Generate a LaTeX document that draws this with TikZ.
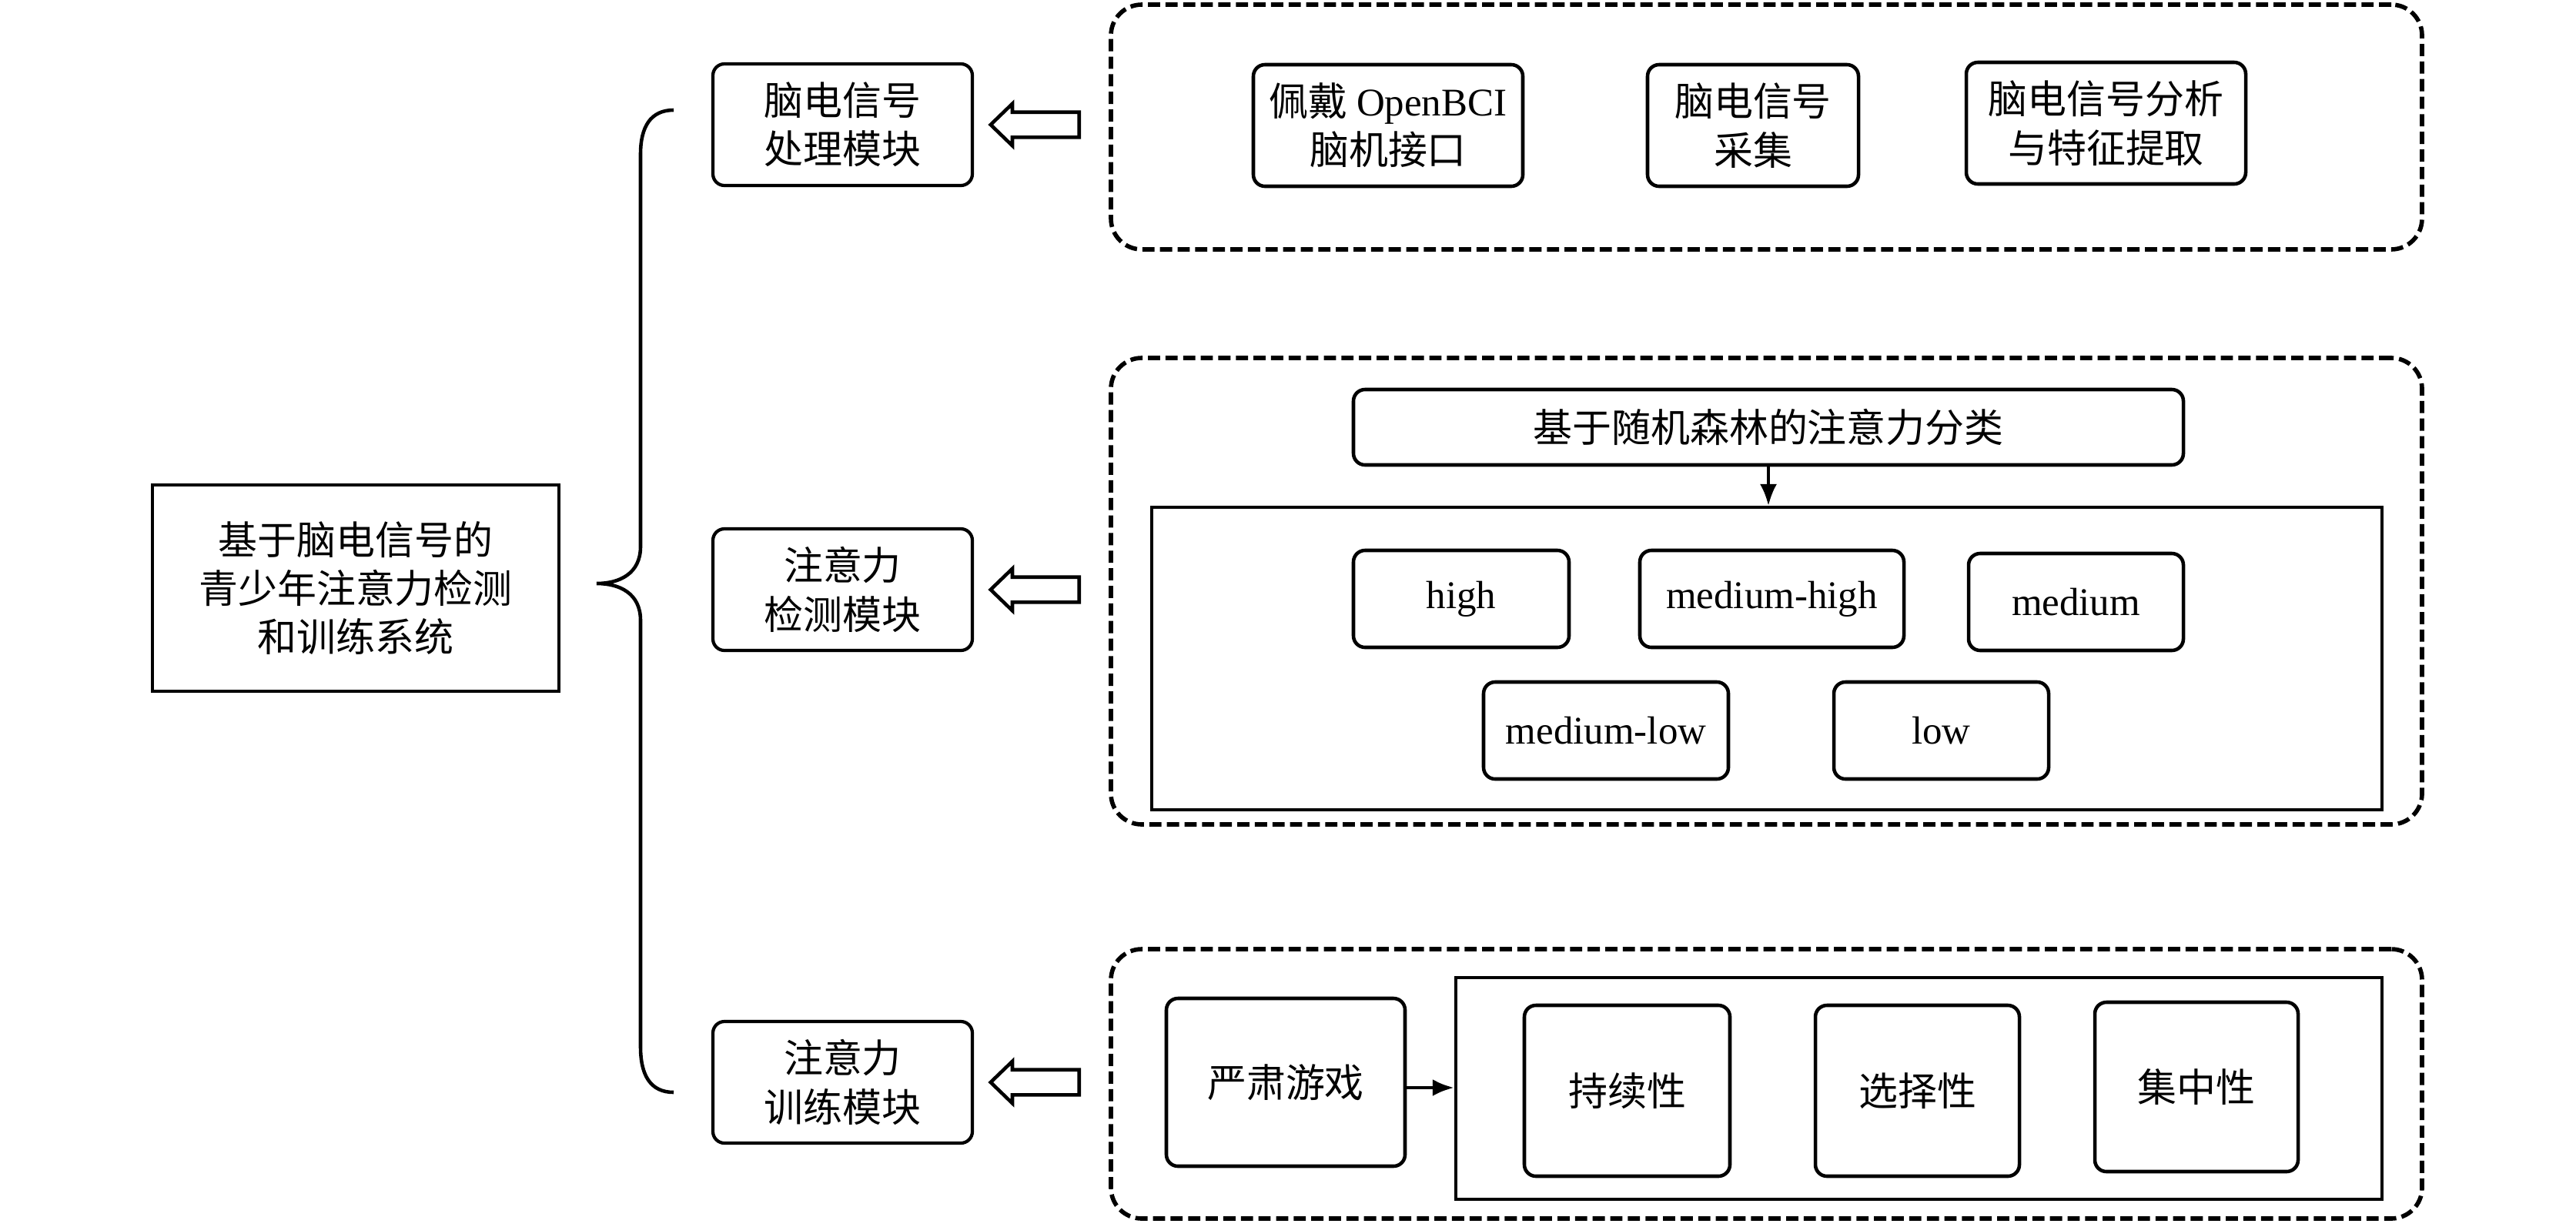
\documentclass[tikz,border=0pt]{standalone}
\usepackage{fontspec}
\setmainfont{Liberation Serif}
\newfontfamily\cjk{Noto Sans CJK SC}
\usetikzlibrary{shapes.arrows,arrows.meta}
\begin{document}
\begin{tikzpicture}[
  every node/.style={font=\cjk\fontsize{14.5}{18}\selectfont, align=center, inner sep=0pt},
  mainbox/.style={draw, line width=1.1pt, minimum width=5.28cm, minimum height=2.68cm},
  modbox/.style={draw, line width=1.2pt, rounded corners=0.15cm, minimum width=3.37cm, minimum height=1.58cm},
  subbox/.style={draw, line width=1.3pt, rounded corners=0.15cm},
  panel/.style={draw, line width=1.2pt},
  dashbox/.style={draw, line width=1.6pt, dash pattern=on 4.5pt off 2pt, rounded corners=0.4cm},
  hollow/.style={draw, line width=1.3pt, single arrow, shape border rotate=180, minimum height=1.15cm, inner xsep=0pt, inner ysep=0.14cm, single arrow head extend=0.11cm, single arrow tip angle=88},
  conn/.style={line width=1.1pt, -{Latex[length=0.28cm,width=0.22cm]}}
]
\useasboundingbox (0,0) rectangle (33.46,-15.93);

% main box
\node[mainbox] (main) at (4.62,-7.64) {基于脑电信号的\\青少年注意力检测\\和训练系统};

% brace
\draw[line width=1.3pt] (8.75,-1.43) .. controls (8.45,-1.43) and (8.32,-1.65) .. (8.32,-2.0)
  -- (8.32,-7.1) .. controls (8.32,-7.45) and (8.05,-7.58) .. (7.75,-7.58)
  .. controls (8.05,-7.58) and (8.32,-7.71) .. (8.32,-8.06)
  -- (8.32,-13.6) .. controls (8.32,-13.97) and (8.45,-14.19) .. (8.75,-14.19);

% modules
\node[modbox] (m1) at (10.945,-1.62) {脑电信号\\处理模块};
\node[modbox] (m2) at (10.945,-7.66) {注意力\\检测模块};
\node[modbox] (m3) at (10.945,-14.06) {注意力\\训练模块};

% dashed panels
\node[dashbox, minimum width=17.03cm, minimum height=3.18cm] (d1) at (22.945,-1.65) {};
\node[dashbox, minimum width=17.03cm, minimum height=6.06cm] (d2) at (22.945,-7.68) {};
\node[dashbox, minimum width=17.03cm, minimum height=3.50cm] (d3) at (22.945,-14.08) {};

% hollow arrows
\path (m1.east) -- node[hollow] (ar1) {} (m1.east -| d1.west);
\path (m2.east) -- node[hollow] (ar2) {} (m2.east -| d2.west);
\path (m3.east) -- node[hollow] (ar3) {} (m3.east -| d3.west);

% panel 1
\node[subbox, minimum width=3.50cm, minimum height=1.58cm] (a1) at (18.03,-1.63) {佩戴 {\rmfamily OpenBCI}\\脑机接口};
\node[subbox, minimum width=2.74cm, minimum height=1.58cm] (a2) at (22.77,-1.63) {脑电信号\\采集};
\node[subbox, minimum width=3.63cm, minimum height=1.58cm] (a3) at (27.355,-1.60) {脑电信号分析\\与特征提取};

% panel 2
\node[subbox, minimum width=10.78cm, minimum height=0.98cm] (cls) at (22.97,-5.55) {基于随机森林的注意力分类};
\node[panel, minimum width=15.98cm, minimum height=3.93cm] (lv) at (22.95,-8.555) {};
\draw[conn] (cls.south) -- (cls.south |- lv.north);
\node[subbox, minimum width=2.80cm, minimum height=1.26cm, font=\rmfamily\fontsize{14.5}{18}\selectfont] (high) at (18.98,-7.78) {high};
\node[subbox, minimum width=3.43cm, minimum height=1.26cm, font=\rmfamily\fontsize{14.5}{18}\selectfont] (mh) at (23.015,-7.78) {medium-high};
\node[subbox, minimum width=2.79cm, minimum height=1.26cm, font=\rmfamily\fontsize{14.5}{18}\selectfont] (med) at (26.965,-7.82) {medium};
\node[subbox, minimum width=3.18cm, minimum height=1.26cm, font=\rmfamily\fontsize{14.5}{18}\selectfont] (ml) at (20.86,-9.49) {medium-low};
\node[subbox, minimum width=2.79cm, minimum height=1.26cm, font=\rmfamily\fontsize{14.5}{18}\selectfont] (low) at (25.215,-9.49) {low};

% panel 3
\node[subbox, minimum width=3.10cm, minimum height=2.18cm] (game) at (16.70,-14.06) {严肃游戏};
\node[panel, minimum width=12.03cm, minimum height=2.88cm] (tr) at (24.925,-14.14) {};
\draw[conn, line width=1.4pt] (game.east |- 0,-14.13) -- (tr.west |- 0,-14.13);
\node[subbox, minimum width=2.67cm, minimum height=2.22cm] (t1) at (21.135,-14.17) {持续性};
\node[subbox, minimum width=2.65cm, minimum height=2.22cm] (t2) at (24.905,-14.17) {选择性};
\node[subbox, minimum width=2.64cm, minimum height=2.20cm] (t3) at (28.53,-14.12) {集中性};
\end{tikzpicture}
\end{document}
